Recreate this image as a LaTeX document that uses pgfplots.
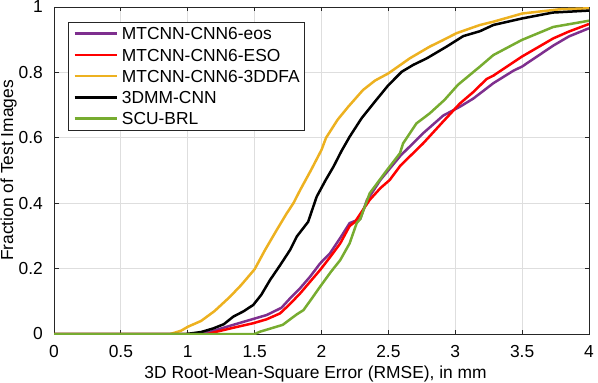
\documentclass[border=0pt]{standalone}
\usepackage{pgfplots}
\pgfplotsset{compat=1.18}
\usepackage{fontspec}
\setmainfont{Liberation Sans}

\definecolor{mpurple}{rgb}{0.494,0.184,0.556}
\definecolor{mred}{rgb}{1,0,0}
\definecolor{myellow}{rgb}{0.929,0.694,0.125}
\definecolor{mgreen}{rgb}{0.466,0.674,0.188}
\definecolor{maxis}{rgb}{0.15,0.15,0.15}

\begin{document}
\fontsize{17.4}{21}\selectfont
\begin{tikzpicture}
\begin{axis}[
  name=ax,
  scale only axis,
  width=535pt, height=327pt,
  xmin=0, xmax=4, ymin=0, ymax=1,
  xtick={0,0.5,1,1.5,2,2.5,3,3.5,4},
  ytick={0,0.2,0.4,0.6,0.8,1},
  /pgf/number format/assume math mode=true,
  /pgf/number format/fixed,
  tick align=inside,
  major tick length=4.5pt,
  tick style={maxis, line width=0.8pt},
  axis line style={maxis, line width=0.8pt},
  grid=major,
  major grid style={black!13, line width=0.8pt},
  xticklabel style={anchor=north, inner sep=0pt, yshift=-11pt},
  yticklabel style={anchor=east, inner sep=0pt, xshift=-11pt},
  xlabel={3D Root-Mean-Square Error (RMSE), in mm},
  ylabel={Fraction of Test Images},
  xlabel style={at={(axis description cs:0.489,-0.1346)}, anchor=base, inner sep=0pt},
  ylabel style={at={(axis description cs:-0.0766,0.5)}, anchor=base, inner sep=0pt},
  legend cell align=left,
  legend style={at={(axis description cs:0.0262,0.9541)}, anchor=north west,
    draw=maxis, line width=0.8pt, fill=white,
    inner xsep=5pt, inner ysep=5pt, row sep=8.75pt, column sep=4pt,
    cells={anchor=west},
    nodes={inner sep=0pt, text height=12.5pt, text depth=0pt}},
  legend image code/.code={\draw[#1, line width=2.5pt] (0pt,0pt) -- (42pt,0pt);},
  every axis plot/.append style={line width=2.5pt},
]

\addplot[mpurple] coordinates {
(0,0) (1.1,0) (1.17,0.007) (1.34,0.028) (1.465,0.043) (1.59,0.058) (1.7,0.08)
(1.765,0.109) (1.84,0.14) (1.914,0.175) (1.99,0.216) (2.064,0.247) (2.15,0.3)
(2.21,0.339) (2.29,0.352) (2.34,0.41) (2.375,0.43) (2.44,0.471) (2.59,0.545)
(2.76,0.614) (2.91,0.668) (3.035,0.695) (3.135,0.72) (3.285,0.767) (3.434,0.805)
(3.5,0.818) (3.733,0.882) (3.85,0.91) (4.0,0.935)
};
\addlegendentry{MTCNN-CNN6-eos}

\addplot[mred] coordinates {
(0,0) (1.15,0) (1.216,0.007) (1.35,0.02) (1.49,0.033) (1.59,0.045) (1.69,0.063)
(1.76,0.09) (1.84,0.124) (1.915,0.16) (1.99,0.196) (2.064,0.235) (2.14,0.277)
(2.21,0.33) (2.25,0.343) (2.36,0.41) (2.44,0.446) (2.51,0.471) (2.59,0.515)
(2.76,0.583) (2.91,0.65) (3.035,0.705) (3.135,0.74) (3.235,0.78) (3.285,0.79)
(3.497,0.848) (3.733,0.904) (3.85,0.925) (4.0,0.948)
};
\addlegendentry{MTCNN-CNN6-ESO}

\addplot[myellow] coordinates {
(0,0) (0.87,0) (0.95,0.01) (1.0,0.022) (1.1,0.04) (1.2,0.07) (1.316,0.114)
(1.4,0.15) (1.5,0.198) (1.578,0.257) (1.665,0.318) (1.74,0.369) (1.79,0.4)
(1.84,0.44) (1.92,0.5) (2.0,0.563) (2.034,0.6) (2.12,0.655) (2.2,0.695)
(2.31,0.746) (2.4,0.775) (2.5,0.797) (2.58,0.82) (2.66,0.843) (2.81,0.879)
(2.9,0.897) (3.01,0.92) (3.185,0.945) (3.285,0.955) (3.5,0.98) (3.78,0.993)
(4.0,0.996)
};
\addlegendentry{MTCNN-CNN6-3DDFA}

\addplot[black] coordinates {
(0,0) (0.99,0) (1.1,0.006) (1.19,0.017) (1.27,0.03) (1.34,0.053) (1.42,0.07)
(1.49,0.089) (1.55,0.12) (1.615,0.165) (1.69,0.21) (1.765,0.257) (1.815,0.298)
(1.9,0.343) (1.964,0.42) (2.03,0.47) (2.09,0.512) (2.15,0.56) (2.21,0.603)
(2.3,0.66) (2.41,0.716) (2.5,0.761) (2.6,0.802) (2.686,0.823) (2.787,0.843)
(2.936,0.879) (3.06,0.911) (3.185,0.926) (3.285,0.945) (3.5,0.965) (3.73,0.983)
(4.0,0.989)
};
\addlegendentry{3DMM-CNN}

\addplot[mgreen] coordinates {
(0,0) (1.5,0) (1.54,0.007) (1.71,0.028) (1.815,0.06) (1.865,0.073) (1.93,0.11)
(1.99,0.145) (2.07,0.19) (2.14,0.226) (2.21,0.277) (2.263,0.339) (2.29,0.352)
(2.36,0.43) (2.487,0.5) (2.51,0.512) (2.587,0.553) (2.61,0.583) (2.71,0.644)
(2.81,0.675) (2.92,0.716) (3.02,0.762) (3.185,0.818) (3.285,0.853) (3.497,0.899)
(3.733,0.939) (4.0,0.958)
};
\addlegendentry{SCU-BRL}

\end{axis}
\pgfresetboundingbox
\path[use as bounding box] ([shift={(-54pt,-48pt)}]ax.south west) rectangle ([shift={(9pt,7pt)}]ax.north east);
\end{tikzpicture}
\end{document}
